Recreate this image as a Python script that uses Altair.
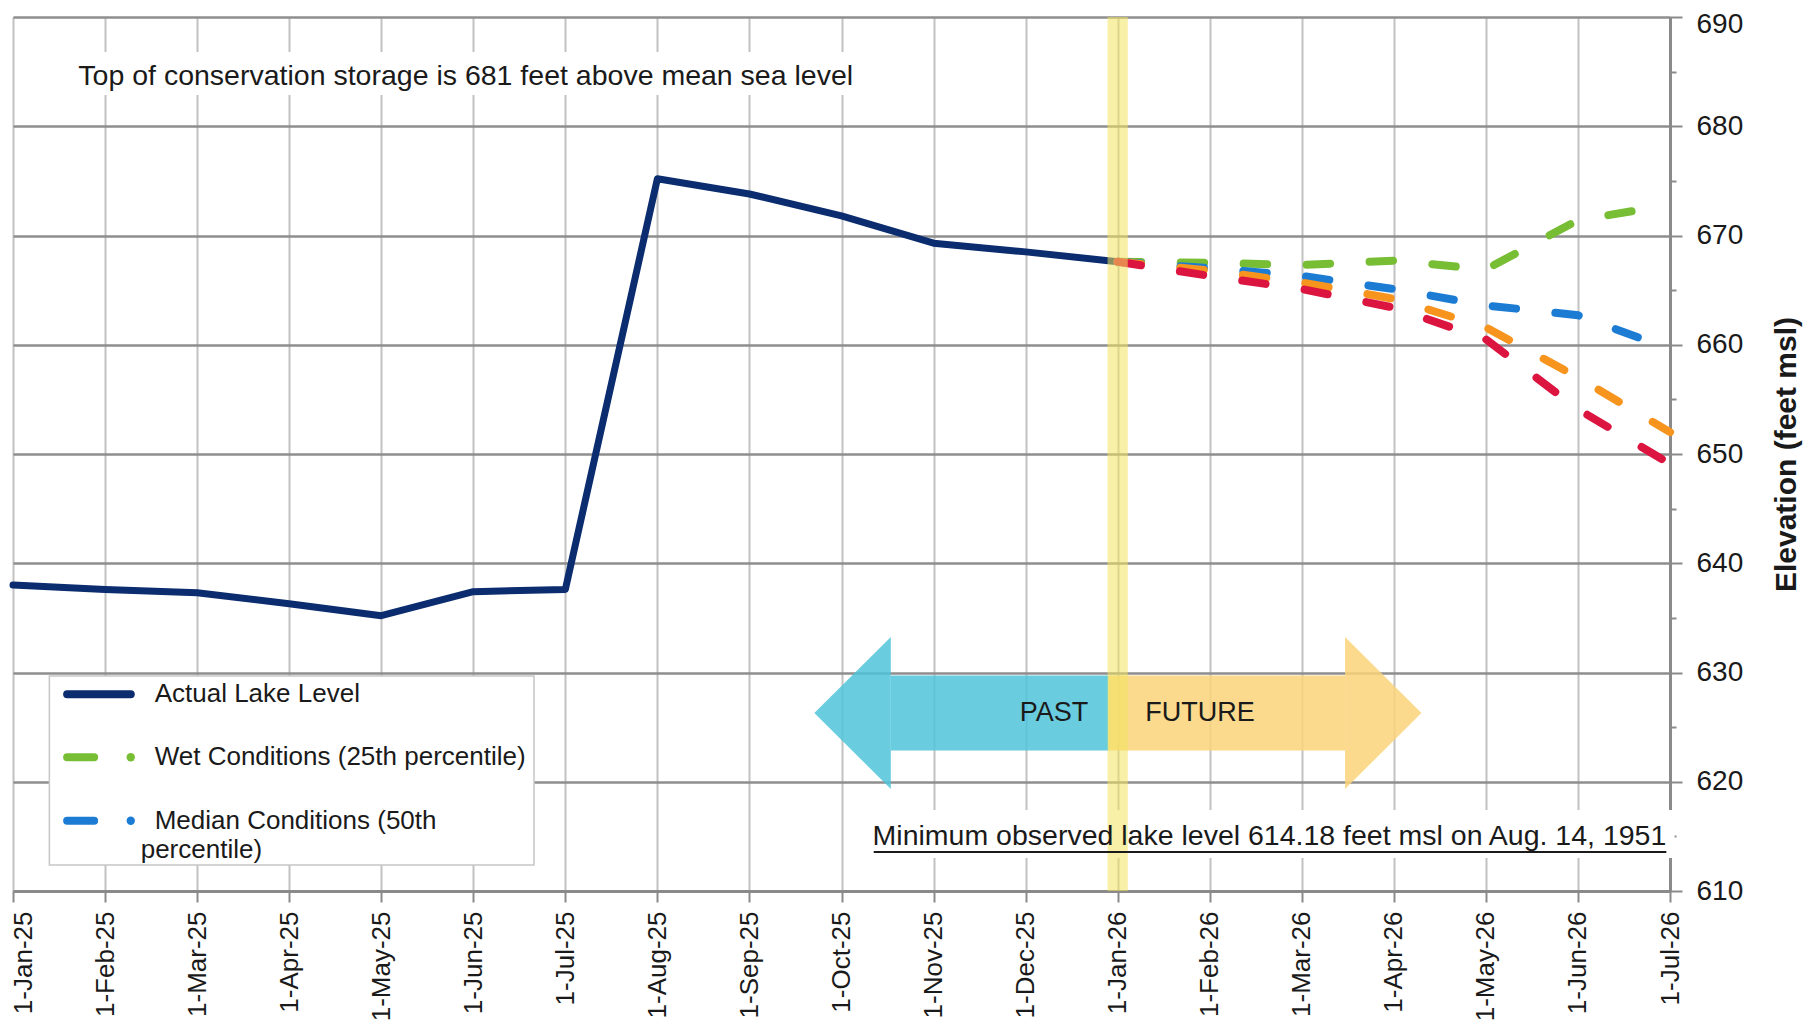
import json
import altair as alt
import pandas as pd

# ---------------- data ----------------
month_labels = ["1-Jan-25", "1-Feb-25", "1-Mar-25", "1-Apr-25", "1-May-25", "1-Jun-25",
                "1-Jul-25", "1-Aug-25", "1-Sep-25", "1-Oct-25", "1-Nov-25", "1-Dec-25",
                "1-Jan-26", "1-Feb-26", "1-Mar-26", "1-Apr-26", "1-May-26", "1-Jun-26",
                "1-Jul-26"]
y_ticks = [610, 615, 620, 625, 630, 635, 640, 645, 650, 655, 660, 665, 670, 675, 680, 685, 690]

actual_months = month_labels[:13]
actual_level = [638.0, 637.6, 637.3, 636.3, 635.2, 637.4, 637.6,
                675.2, 673.8, 671.8, 669.3, 668.5, 667.6]

forecast_months = month_labels[12:]
wet_level = [667.6, 667.5, 667.3, 667.7, 666.9, 671.4, 672.8]
median_level = [667.6, 667.0, 666.3, 665.1, 663.6, 662.7, 659.6]
dry_level = [667.6, 666.8, 665.7, 664.2, 661.6, 657.0, 652.0]
extreme_level = [667.6, 666.3, 665.1, 663.4, 660.5, 654.1, 649.1]

series_names = ["Actual Lake Level", "Wet Conditions (25th percentile)",
                "Median Conditions (50th percentile)", "Dry Conditions (75th percentile)",
                "Extreme Dry Conditions (90th percentile)"]
series_colors = ["#0B2C6E", "#77BE35", "#1C7CD4", "#F7941D", "#DC1440"]

note_top = "Top of conservation storage is 681 feet above mean sea level"
note_min = "Minimum observed lake level 614.18 feet msl on Aug. 14, 1951"
legend_lines = ["Actual Lake Level", "Wet Conditions (25th percentile)",
                "Median Conditions (50th", "percentile)"]

FONT = "Liberation Sans"
TXT = "#1a1a1a"

# ---------------- scales / axes ----------------
xscale = alt.Scale(domain=[0, len(month_labels) - 1], nice=False, zero=False)
yscale = alt.Scale(domain=[610, 690], nice=False, zero=False)

xaxis = alt.Axis(values=list(range(len(month_labels))),
                 labelExpr=json.dumps(month_labels) + "[datum.value]",
                 labelAngle=270, labelFontSize=26, labelColor=TXT, labelFont=FONT,
                 labelPadding=9, labelOverlap=False, labelFlush=False, labelBound=False,
                 labelOffset={"condition": {"test": "datum.value === 0", "value": 10}, "value": 0},
                 tickSize=11, tickColor="#8A8A8A", tickWidth=2,
                 domainColor="#8A8A8A", domainWidth=3,
                 grid=True, gridColor="#C2C2C2", gridWidth=2, title=None)

is10 = "datum.value % 10 === 0"
yaxis = alt.Axis(orient="right", values=y_ticks,
                 labelExpr=is10 + " ? datum.label : ''",
                 labelFontSize=28, labelColor=TXT, labelFont=FONT, labelPadding=14,
                 labelOverlap=False, labelFlush=False,
                 labelOffset={"condition": {"test": "datum.value === 690", "value": 7}, "value": 0},
                 tickSize={"condition": {"test": is10, "value": 12}, "value": 6},
                 tickColor="#8A8A8A", tickWidth=2,
                 domainColor="#8A8A8A", domainWidth=3,
                 grid=True, gridColor="#8E8E8E", gridWidth=2.5,
                 gridOpacity={"condition": {"test": is10, "value": 1}, "value": 0},
                 title="Elevation (feet msl)", titleFontSize=30, titleFontWeight="bold",
                 titleFont=FONT, titleColor=TXT, titleAngle=270, titleX=116, titleY=437,
                 titleAlign="center", titleBaseline="middle")


def X(f="m"):
    return alt.X(f + ":Q", scale=xscale, axis=xaxis)


def Y(f="elev"):
    return alt.Y(f + ":Q", scale=yscale, axis=yaxis)


def idx(labels):
    return [month_labels.index(l) for l in labels]


layers = []

# white boxes behind the notes
boxes = pd.DataFrame({"m": [0.58, 9.25], "m2": [9.25, 18.05],
                      "elev": [682.86, 613.02], "elev2": [686.8, 617.41]})
layers.append(alt.Chart(boxes).mark_rect(fill="white").encode(
    x=X(), x2="m2", y=Y(), y2="elev2"))

# legend box
lbox = pd.DataFrame({"m": [0.395], "m2": [5.66], "elev": [612.38], "elev2": [629.68]})
layers.append(alt.Chart(lbox).mark_rect(fill="white", stroke="#C6C6C6", strokeWidth=1.5).encode(
    x=X(), x2="m2", y=Y(), y2="elev2"))

# PAST / FUTURE arrows
bodies = pd.DataFrame({"m": [9.536, 11.9], "m2": [11.9, 14.47],
                       "elev": [622.86, 622.86], "elev2": [629.73, 629.73],
                       "c": ["#4FC3D9", "#FAD47A"]})
layers.append(alt.Chart(bodies).mark_rect(opacity=0.85).encode(
    x=X(), x2="m2", y=Y(), y2="elev2", color=alt.Color("c:N", scale=None)))
past_head = pd.DataFrame({"m": [8.705, 9.536], "elev": [626.29, 619.34], "elev2": [626.29, 633.25]})
fut_head = pd.DataFrame({"m": [14.47, 15.30], "elev": [619.34, 626.29], "elev2": [633.25, 626.29]})
layers.append(alt.Chart(past_head).mark_area(color="#4FC3D9", opacity=0.85).encode(
    x=X(), y=Y(), y2="elev2"))
layers.append(alt.Chart(fut_head).mark_area(color="#FAD47A", opacity=0.85).encode(
    x=X(), y=Y(), y2="elev2"))

# actual lake level
act = pd.DataFrame({"m": idx(actual_months), "elev": actual_level})
layers.append(alt.Chart(act).mark_line(color=series_colors[0], strokeWidth=7,
                                       strokeJoin="round", strokeCap="round").encode(
    x=X(), y=Y()))

# forecast lines
for vals, col in zip([wet_level, median_level, dry_level, extreme_level], series_colors[1:]):
    df = pd.DataFrame({"m": idx(forecast_months), "elev": vals})
    layers.append(alt.Chart(df).mark_line(color=col, strokeWidth=8, strokeCap="round",
                                          strokeDash=[23.5, 39.5]).encode(x=X(), y=Y()))

# yellow "today" band
band = pd.DataFrame({"m": [11.89], "m2": [12.11], "elev": [610], "elev2": [690]})
layers.append(alt.Chart(band).mark_rect(color="#F2E35C", opacity=0.55).encode(
    x=X(), x2="m2", y=Y(), y2="elev2"))

# notes
t1 = pd.DataFrame({"m": [0.71], "elev": [683.78], "t": [note_top]})
layers.append(alt.Chart(t1).mark_text(align="left", baseline="alphabetic", fontSize=28.5,
                                      font=FONT, color=TXT).encode(x=X(), y=Y(), text="t:N"))
t2 = pd.DataFrame({"m": [17.96], "elev": [614.21], "t": [note_min]})
layers.append(alt.Chart(t2).mark_text(align="right", baseline="alphabetic", fontSize=28.5,
                                      font=FONT, color=TXT).encode(x=X(), y=Y(), text="t:N"))
ul = pd.DataFrame({"m": [9.35], "m2": [17.96], "elev": [613.57]})
layers.append(alt.Chart(ul).mark_rule(color=TXT, strokeWidth=2.2).encode(
    x=X(), x2="m2", y=Y()))

# PAST / FUTURE labels
pf = pd.DataFrame({"m": [11.68, 12.30], "elev": [626.29, 626.29], "t": ["PAST", "FUTURE"]})
layers.append(alt.Chart(pf.iloc[[0]]).mark_text(align="right", baseline="middle", fontSize=27,
                                                font=FONT, color=TXT).encode(x=X(), y=Y(), text="t:N"))
layers.append(alt.Chart(pf.iloc[[1]]).mark_text(align="left", baseline="middle", fontSize=27,
                                                font=FONT, color=TXT).encode(x=X(), y=Y(), text="t:N"))

# legend
leg_txt = pd.DataFrame({"m": [1.539, 1.539, 1.539, 1.387],
                        "elev": [628.0, 622.24, 616.43, 613.75], "t": legend_lines})
layers.append(alt.Chart(leg_txt).mark_text(align="left", baseline="middle", fontSize=26,
                                           font=FONT, color=TXT).encode(x=X(), y=Y(), text="t:N"))
leg_sym = pd.DataFrame({"m": [0.588, 0.588, 0.588], "m2": [1.279, 0.881, 0.881],
                        "elev": [628.0, 622.24, 616.43], "c": series_colors[:3]})
layers.append(alt.Chart(leg_sym).mark_rule(strokeWidth=8, strokeCap="round").encode(
    x=X(), x2="m2", y=Y(), color=alt.Color("c:N", scale=None)))
leg_dot = pd.DataFrame({"m": [1.279, 1.279], "elev": [622.24, 616.43], "c": series_colors[1:3]})
layers.append(alt.Chart(leg_dot).mark_point(filled=True, size=70, opacity=1, shape="circle").encode(
    x=X(), y=Y(), color=alt.Color("c:N", scale=None)))

chart = alt.layer(*layers).properties(
    width=1657, height=874,
    autosize=alt.AutoSizeParams(type="none"),
    padding={"left": 5, "top": 9, "right": 134, "bottom": 132},
    background="white",
).configure_view(stroke="#8A8A8A", strokeWidth=3).configure(font=FONT)

chart.save("out.html", embed_options={"renderer": "svg", "actions": False})
